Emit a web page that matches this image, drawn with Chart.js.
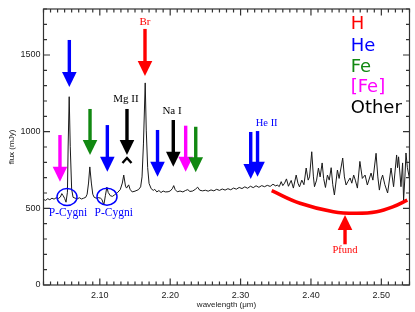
<!DOCTYPE html>
<html>
<head>
<meta charset="utf-8">
<script src="https://cdn.jsdelivr.net/npm/chart.js@4"></script>
<style>
  body { margin: 0; background: #fff; }
  canvas { display: block; }
</style>
</head>
<body>
<canvas id="spec" width="415" height="312"></canvas>
<script>
// spectrum
var wavelength = [2.020, 2.023, 2.026, 2.029, 2.032, 2.035, 2.038, 2.041, 2.044, 2.046, 2.048, 2.050, 2.052, 2.054, 2.055, 2.0565, 2.058, 2.060, 2.062, 2.065,
  2.068, 2.071, 2.074, 2.077, 2.080, 2.082, 2.084, 2.0858, 2.088, 2.090, 2.092, 2.095, 2.098, 2.101, 2.103, 2.1057, 2.108, 2.110, 2.112, 2.115,
  2.118, 2.121, 2.125, 2.129, 2.132, 2.134, 2.1365, 2.138, 2.141, 2.143, 2.146, 2.150, 2.155, 2.158, 2.160, 2.162, 2.1645, 2.166, 2.168, 2.170,
  2.173, 2.176, 2.178, 2.181, 2.184, 2.187, 2.190, 2.193, 2.197, 2.200, 2.203, 2.205, 2.207, 2.210, 2.214, 2.218, 2.222, 2.225, 2.228, 2.232,
  2.236, 2.239, 2.242, 2.246, 2.250, 2.254, 2.258, 2.262, 2.266, 2.270, 2.274, 2.278, 2.282, 2.286, 2.290, 2.294, 2.298, 2.302, 2.306, 2.310,
  2.314, 2.318, 2.322, 2.326, 2.330, 2.334, 2.338, 2.342, 2.346, 2.350, 2.352, 2.355, 2.3577, 2.360, 2.3625, 2.3652, 2.368, 2.3719, 2.375, 2.379,
  2.3815, 2.3837, 2.387, 2.390, 2.3932, 2.396, 2.398, 2.4011, 2.4035, 2.405, 2.408, 2.4106, 2.413, 2.4159, 2.418, 2.4206, 2.4234, 2.426, 2.4287, 2.431,
  2.4333, 2.4376, 2.440, 2.4451, 2.4475, 2.4499, 2.4525, 2.4556, 2.458, 2.4607, 2.463, 2.466, 2.4695, 2.473, 2.4769, 2.4801, 2.4854, 2.488, 2.4925, 2.495,
  2.4972, 2.4995, 2.5018, 2.505, 2.5089, 2.5138, 2.5174, 2.5217, 2.523, 2.5245, 2.5279, 2.5302, 2.5316, 2.5335, 2.5350, 2.5370, 2.5395];
var flux = [558, 552, 563, 556, 566, 560, 569, 564, 574, 596, 582, 565, 540, 605, 900, 1228, 905, 625, 572, 566,
  562, 569, 561, 566, 572, 592, 665, 770, 665, 592, 572, 566, 570, 566, 558, 522, 585, 638, 603, 582,
  578, 588, 602, 622, 665, 717, 645, 632, 653, 624, 607, 612, 622, 640, 705, 920, 1318, 1010, 765, 662,
  628, 617, 624, 607, 616, 603, 613, 607, 608, 613, 628, 648, 623, 608, 613, 607, 617, 622, 610, 613,
  625, 638, 618, 614, 618, 612, 620, 614, 624, 617, 626, 619, 628, 621, 632, 625, 636, 629, 640, 631,
  644, 635, 647, 637, 648, 641, 650, 643, 657, 646, 652, 642, 674, 648, 664, 692, 644, 682, 632, 717,
  664, 640, 684, 654, 763, 684, 705, 869, 705, 641, 684, 763, 705, 796, 695, 636, 717, 684, 765, 654,
  587, 750, 695, 828, 705, 652, 675, 698, 664, 717, 684, 632, 806, 695, 717, 652, 730, 684, 859, 705,
  619, 684, 717, 654, 600, 763, 641, 848, 765, 836, 641, 796, 554, 705, 861, 765, 705];

// red Pfund continuum curve
var pfundWave = [2.3442, 2.3844, 2.4318, 2.4650, 2.4934, 2.5170, 2.5369];
var pfundFlux = [615, 533, 478, 468, 478, 511, 554];

var xTicks = [2.10, 2.20, 2.30, 2.40, 2.50];
var yTicks = [0, 500, 1000, 1500];

// line markers: wavelength, top and tip flux
var arrowWave = [2.0567, 2.1642, 2.0861, 2.0434, 2.1107, 2.1386, 2.182, 2.2044, 2.222, 2.2363, 2.3144, 2.3241, 2.4484];
var arrowTop  = [1598, 1670, 1148, 978, 1043, 1148, 1011, 1076, 1039, 1032, 998, 1004, 272];
var arrowTip  = [1291, 1363, 848, 674, 739, 848, 706, 772, 739, 735, 691, 706, 457];
var arrowKind = ['He', 'H', 'Fe', '[Fe]', 'He', 'Other', 'He', 'Other', '[Fe]', 'Fe', 'He', 'He', 'H'];

var labelText = ['Br', 'Mg II', 'Na I', 'He II', 'P-Cygni', 'P-Cygni', 'Pfund'];
var labelWave = [2.1642, 2.1372, 2.2026, 2.3371, 2.0548, 2.1197, 2.4484];
var labelFlux = [1696, 1195, 1115, 1037, 450, 450, 207];
var labelKind = ['H', 'Other', 'Other', 'He', 'He', 'He', 'H'];

var circleWave = [2.0534, 2.1102];
var circleFlux = [574, 576];

var legendText = ['H', 'He', 'Fe', '[Fe]', 'Other'];
var legendFlux = [1668, 1528, 1391, 1257, 1120];
var legendWave = 2.4565;

var colors = { 'H': '#ff0000', 'He': '#0000ff', 'Fe': '#118811', '[Fe]': '#ff00ff', 'Other': '#000000' };
var labelSize = [11, 11, 11, 10.5, 11.5, 11.5, 10.5];

function pts(xs, ys) {
  return xs.map(function (x, i) { return { x: x, y: ys[i] }; });
}

var framePlugin = {
  id: 'frame',
  afterDatasetsDraw: function (chart) {
    var c = chart.ctx, a = chart.chartArea, sx = chart.scales.x, sy = chart.scales.y;
    c.save();
    c.strokeStyle = '#333';
    c.lineWidth = 1.2;
    c.strokeRect(a.left, a.top, a.right - a.left, a.bottom - a.top);
    c.beginPath();
    for (var i = 202; i <= 254; i++) {
      var px = sx.getPixelForValue(i / 100);
      var len = i % 10 === 0 ? 6.5 : 3.5;
      c.moveTo(px, a.bottom); c.lineTo(px, a.bottom - len);
      c.moveTo(px, a.top); c.lineTo(px, a.top + len);
    }
    for (var v = 0; v <= 1800; v += 100) {
      var py = sy.getPixelForValue(v);
      var l2 = v % 500 === 0 ? 6.5 : 3.5;
      c.moveTo(a.left, py); c.lineTo(a.left + l2, py);
      c.moveTo(a.right, py); c.lineTo(a.right - l2, py);
    }
    c.stroke();
    c.restore();
  }
};

var notesPlugin = {
  id: 'notes',
  afterDatasetsDraw: function (chart) {
    var c = chart.ctx, sx = chart.scales.x, sy = chart.scales.y;
    c.save();
    // arrows
    arrowWave.forEach(function (w, i) {
      var x = sx.getPixelForValue(w);
      var y0 = sy.getPixelForValue(arrowTop[i]);
      var y1 = sy.getPixelForValue(arrowTip[i]);
      var dir = y1 > y0 ? 1 : -1;
      var hh = 15, hw = 7.3;
      c.fillStyle = colors[arrowKind[i]];
      c.fillRect(x - 1.7, Math.min(y0, y1 - dir * hh), 3.4, Math.abs(y1 - dir * hh - y0) + 1);
      c.beginPath();
      c.moveTo(x - hw, y1 - dir * hh);
      c.lineTo(x + hw, y1 - dir * hh);
      c.lineTo(x, y1);
      c.closePath();
      c.fill();
      if (i === 5) {
        // small chevron under the Mg II head
        c.strokeStyle = '#000';
        c.lineWidth = 2.4;
        c.beginPath();
        c.moveTo(x - 4.5, y1 + 8);
        c.lineTo(x, y1 + 3);
        c.lineTo(x + 4.5, y1 + 8);
        c.stroke();
      }
    });
    // P-Cygni circles
    c.strokeStyle = '#0000ff';
    c.lineWidth = 1.5;
    circleWave.forEach(function (w, i) {
      c.beginPath();
      c.ellipse(sx.getPixelForValue(w), sy.getPixelForValue(circleFlux[i]), 10, 8.5, 0, 0, Math.PI * 2);
      c.stroke();
    });
    // line labels
    c.textAlign = 'center';
    c.textBaseline = 'alphabetic';
    labelText.forEach(function (t, i) {
      c.font = labelSize[i] + 'px "Liberation Serif", serif';
      c.fillStyle = colors[labelKind[i]];
      c.fillText(t, sx.getPixelForValue(labelWave[i]), sy.getPixelForValue(labelFlux[i]));
    });
    // colour key
    c.textAlign = 'left';
    c.font = '18px "DejaVu Sans", sans-serif';
    legendText.forEach(function (t, i) {
      c.fillStyle = colors[t];
      c.fillText(t, sx.getPixelForValue(legendWave), sy.getPixelForValue(legendFlux[i]));
    });
    c.restore();
  }
};

var ctxSpec = document.getElementById('spec');

var gSpec = new Chart(ctxSpec, {
  type: 'line',
  data: {
    datasets: [
      {
        data: pts(wavelength, flux),
        borderColor: '#1a1a1a',
        borderWidth: 1,
        pointRadius: 0,
        tension: 0
      },
      {
        data: pts(pfundWave, pfundFlux),
        borderColor: '#ff0000',
        borderWidth: 3.5,
        pointRadius: 0,
        tension: 0.4
      }
    ]
  },
  options: {
    responsive: false,
    animation: false,
    layout: { padding: { top: 9, right: 5.5, left: 0, bottom: 0 } },
    plugins: {
      legend: { display: false },
      tooltip: { enabled: false }
    },
    scales: {
      x: {
        type: 'linear',
        min: 2.02,
        max: 2.54,
        grid: { display: false, drawTicks: false },
        border: { display: false },
        afterBuildTicks: function (s) { s.ticks = xTicks.map(function (v) { return { value: v }; }); },
        afterFit: function (s) { s.height = 27; },
        ticks: {
          padding: 5,
          autoSkip: false,
          maxRotation: 0,
          color: '#222',
          font: { family: '"Liberation Sans", sans-serif', size: 9 },
          callback: function (v) { return v.toFixed(2); }
        },
        title: {
          display: true,
          text: 'wavelength (μm)',
          color: '#222',
          font: { family: '"Liberation Sans", sans-serif', size: 8 },
          padding: { top: 0, bottom: 2 }
        }
      },
      y: {
        type: 'linear',
        min: 0,
        max: 1800,
        grid: { display: false, drawTicks: false },
        border: { display: false },
        afterBuildTicks: function (s) { s.ticks = yTicks.map(function (v) { return { value: v }; }); },
        afterFit: function (s) { s.width = 43.5; },
        ticks: {
          padding: 3,
          color: '#222',
          font: { family: '"Liberation Sans", sans-serif', size: 9 },
          callback: function (v) { return String(v); }
        },
        title: {
          display: true,
          text: 'flux (mJy)',
          color: '#222',
          font: { family: '"Liberation Sans", sans-serif', size: 8 },
          padding: { top: 7, bottom: 0 }
        }
      }
    }
  },
  plugins: [framePlugin, notesPlugin]
});
</script>
</body>
</html>
